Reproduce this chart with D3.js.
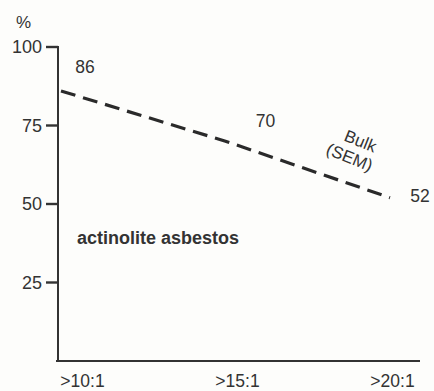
<!DOCTYPE html>
<html>
<head>
<meta charset="utf-8">
<script src="https://cdn.jsdelivr.net/npm/d3@7"></script>
<style>
  html, body { margin: 0; padding: 0; background: #fdfdfb; }
  svg text { font-family: "Liberation Sans", Arial, sans-serif; fill: #333; }
</style>
</head>
<body>
<svg id="chart" width="434" height="391"></svg>
<script>
// Aspect-ratio classes and the share of fibres (bulk SEM) above each ratio
const categories = [">10:1", ">15:1", ">20:1"];
const bulkValues = [86, 70, 52];
const yTicks = [25, 50, 75, 100];

const svg = d3.select("#chart");
const ink = "#333";

const y = d3.scaleLinear().domain([0, 100]).range([361, 47]);
const xLabel = d3.scalePoint().domain(categories).range([82, 392]);
const xLine = d3.scalePoint().domain(categories).range([61, 390]);

// y axis: labels from d3.axisLeft, tick marks as short bars
const yAxis = svg.append("g")
  .attr("transform", "translate(58,0)")
  .call(d3.axisLeft(y).tickValues(yTicks).tickSize(0).tickPadding(16));
yAxis.select(".domain").remove();
yAxis.selectAll(".tick line").remove();
yAxis.selectAll(".tick text").style("font-size", "18px").attr("fill", "#333");

svg.append("g").selectAll("rect").data(yTicks).join("rect")
  .attr("x", 46).attr("width", 12)
  .attr("y", d => y(d) - 1.2).attr("height", 2.4)
  .attr("fill", ink);

svg.append("line")
  .attr("x1", 58).attr("x2", 58)
  .attr("y1", y(100) - 1).attr("y2", y(0) + 1)
  .attr("stroke", ink).attr("stroke-width", 2);

// x axis (labels only, no ticks)
const xAxis = svg.append("g")
  .attr("transform", `translate(0,${y(0)})`)
  .call(d3.axisBottom(xLabel).tickSize(0).tickPadding(14));
xAxis.select(".domain").remove();
xAxis.selectAll(".tick text").style("font-size", "17.5px").attr("fill", "#333");

svg.append("line")
  .attr("x1", 56).attr("x2", 420)
  .attr("y1", y(0)).attr("y2", y(0))
  .attr("stroke", ink).attr("stroke-width", 2);

// unit label
svg.append("text").attr("x", 16).attr("y", 28).style("font-size", "17px").text("%");

// dashed series line
const pts = categories.map((c, i) => [xLine(c), y(bulkValues[i])]);
svg.append("path")
  .attr("d", d3.line()(pts))
  .attr("fill", "none")
  .attr("stroke", "#2a2a2a")
  .attr("stroke-width", 3.2)
  .attr("stroke-dasharray", "15,8");

// value labels beside the line
const labelShift = [[24, -18], [40, -14], [30, 4]];
svg.selectAll(".val").data(bulkValues).join("text")
  .attr("class", "val")
  .attr("x", (d, i) => pts[i][0] + labelShift[i][0])
  .attr("y", (d, i) => pts[i][1] + labelShift[i][1])
  .attr("text-anchor", "middle")
  .style("font-size", "17.5px")
  .text(d => d);

// series name along the line
const tag = svg.append("g").attr("transform", "translate(356,152) rotate(22)");
tag.append("text").attr("x", 0).attr("y", -6).attr("text-anchor", "middle")
  .style("font-size", "17px").text("Bulk");
tag.append("text").attr("x", -4).attr("y", 13).attr("text-anchor", "middle")
  .style("font-size", "17px").text("(SEM)");

// mineral name
svg.append("text").attr("x", 77).attr("y", 244)
  .style("font-size", "18px").style("font-weight", "bold")
  .text("actinolite asbestos");
</script>
</body>
</html>
